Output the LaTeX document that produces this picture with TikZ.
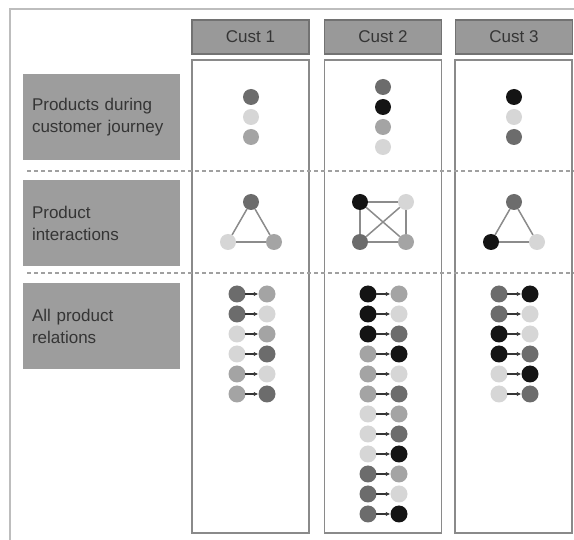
\documentclass[tikz,border=0pt]{standalone}
\usepackage{fontspec}
\setmainfont{Liberation Sans}
\usetikzlibrary{arrows.meta}
% grey tones of the product dots
\definecolor{cK}{HTML}{141414}
\definecolor{cD}{HTML}{6C6C6C}
\definecolor{cM}{HTML}{A4A4A4}
\definecolor{cL}{HTML}{D6D6D6}
% panel colours
\definecolor{hdrfill}{HTML}{999999}
\definecolor{hdrline}{HTML}{727272}
\definecolor{lblfill}{HTML}{9D9D9D}
\definecolor{colline}{HTML}{8A8A8A}
\definecolor{frameline}{HTML}{BDBDBD}
\definecolor{dashline}{HTML}{A0A0A0}
\definecolor{txt}{HTML}{353535}
\definecolor{edgecol}{HTML}{8C8C8C}
\begin{document}
\begin{tikzpicture}[x=1pt,y=-1pt,
  hdr/.style={draw=hdrline,fill=hdrfill,line width=1.4pt,minimum width=117pt,
    minimum height=34pt,inner sep=0pt,text=txt,font=\fontsize{17}{20}\selectfont},
  colbox/.style={draw=colline,fill=white,line width=1.8pt,minimum width=117pt,
    minimum height=473pt,inner sep=0pt},
  lbl/.style={fill=lblfill,text width=139pt,inner xsep=9pt,inner ysep=0pt,
    minimum height=86pt,align=left,text=txt,font=\fontsize{17}{22}\selectfont},
  dot/.style={circle,fill=#1,minimum size=16pt,inner sep=0pt},
  rdot/.style={circle,fill=#1,minimum size=17pt,inner sep=0pt},
  gedge/.style={draw=edgecol,line width=1.5pt},
  rel/.style={draw=txt,line width=1.1pt,-{Latex[length=4.5pt,width=4.5pt]},shorten <=-1pt},
  divider/.style={draw=dashline,line width=2pt,dash pattern=on 4pt off 3pt}]
\useasboundingbox (0,0) rectangle (574,540);
\clip (0,0) rectangle (574,540);

% outer frame
\draw[frameline,line width=2pt] (10,9) rectangle (600,570);

% customer headers
\node[hdr] (h1) at (250.5,37) {Cust 1};
\node[hdr] (h2) at (383,37) {Cust 2};
\node[hdr] (h3) at (514,37) {Cust 3};

% customer columns
\node[colbox] (c1) at (250.5,296.5) {};
\node[colbox] (c2) at (383,296.5) {};
\node[colbox] (c3) at (513.5,296.5) {};

% row labels
\node[lbl] (l1) at (101.5,117) {Products during\\customer journey};
\node[lbl] (l2) at (101.5,223) {Product\\interactions};
\node[lbl] (l3) at (101.5,326) {All product\\relations};

% row dividers
\draw[divider] (27,171) -- (576,171);
\draw[divider] (27,273) -- (576,273);

% products during the journey
\node[dot=cD] (j11) at (251,97) {};
\node[dot=cL] (j12) at (251,117) {};
\node[dot=cM] (j13) at (251,137) {};

\node[dot=cD] (j21) at (383,87) {};
\node[dot=cK] (j22) at (383,107) {};
\node[dot=cM] (j23) at (383,127) {};
\node[dot=cL] (j24) at (383,147) {};

\node[dot=cK] (j31) at (514,97) {};
\node[dot=cL] (j32) at (514,117) {};
\node[dot=cD] (j33) at (514,137) {};

% product interactions
\node[dot=cD] (a1) at (251,202) {};
\node[dot=cL] (a2) at (228,242) {};
\node[dot=cM] (a3) at (274,242) {};
\draw[gedge] (a1) -- (a2);
\draw[gedge] (a2) -- (a3);
\draw[gedge] (a3) -- (a1);

\node[dot=cK] (b1) at (360,202) {};
\node[dot=cL] (b2) at (406,202) {};
\node[dot=cD] (b3) at (360,242) {};
\node[dot=cM] (b4) at (406,242) {};
\draw[gedge] (b1) -- (b2);
\draw[gedge] (b2) -- (b4);
\draw[gedge] (b4) -- (b3);
\draw[gedge] (b3) -- (b1);
\draw[gedge] (b1) -- (b4);
\draw[gedge] (b2) -- (b3);

\node[dot=cD] (e1) at (514,202) {};
\node[dot=cK] (e2) at (491,242) {};
\node[dot=cL] (e3) at (537,242) {};
\draw[gedge] (e1) -- (e2);
\draw[gedge] (e2) -- (e3);
\draw[gedge] (e3) -- (e1);

% all ordered product relations
\foreach \p/\q [count=\i] in {cD/cM,cD/cL,cL/cM,cL/cD,cM/cL,cM/cD}{
  \node[rdot=\p] (ra\i) at (237,274+20*\i) {};
  \node[rdot=\q] (rb\i) at (267,274+20*\i) {};
  \draw[rel] (ra\i) -- (rb\i);
}
\foreach \p/\q [count=\i] in {cK/cM,cK/cL,cK/cD,cM/cK,cM/cL,cM/cD,
                              cL/cM,cL/cD,cL/cK,cD/cM,cD/cL,cD/cK}{
  \node[rdot=\p] (sa\i) at (368,274+20*\i) {};
  \node[rdot=\q] (sb\i) at (399,274+20*\i) {};
  \draw[rel] (sa\i) -- (sb\i);
}
\foreach \p/\q [count=\i] in {cD/cK,cD/cL,cK/cL,cK/cD,cL/cK,cL/cD}{
  \node[rdot=\p] (ta\i) at (499,274+20*\i) {};
  \node[rdot=\q] (tb\i) at (530,274+20*\i) {};
  \draw[rel] (ta\i) -- (tb\i);
}
\end{tikzpicture}
\end{document}
